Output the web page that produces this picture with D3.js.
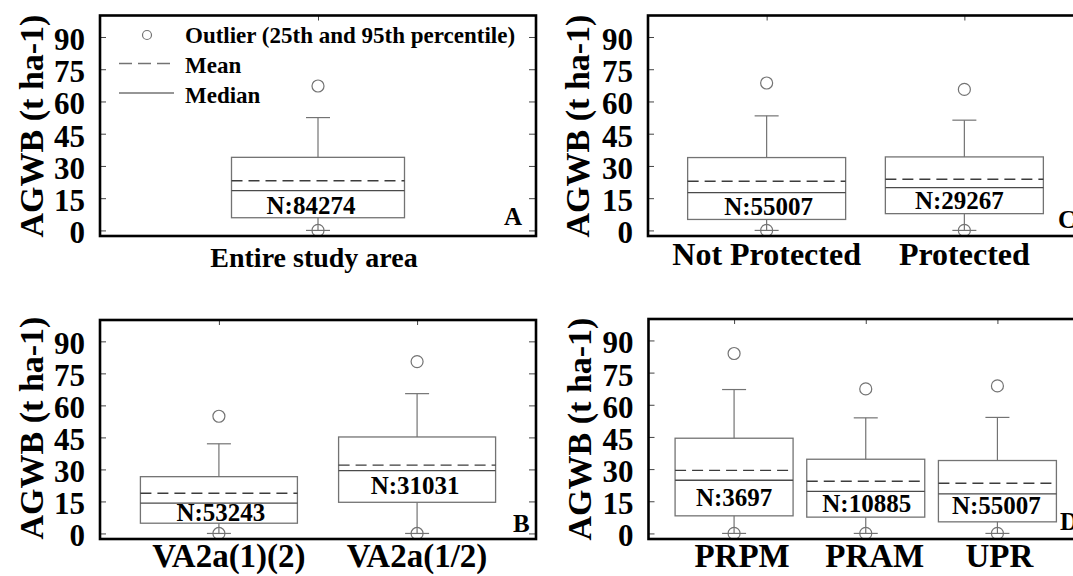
<!DOCTYPE html>
<html>
<head>
<meta charset="utf-8">
<script src="https://cdn.jsdelivr.net/npm/d3@7"></script>
<style>
  body { margin: 0; background: #fff; }
  svg { display: block; font-family: 'Liberation Serif', 'Times New Roman', serif; font-weight: bold; }
</style>
</head>
<body>
<div id="chart"></div>
<script>
const yTicks = [0, 15, 30, 45, 60, 75, 90]

// A: entire study area
const catsA = ['Entire study area']
const nA = [84274]
const loA = [0], q1A = [5.9], medA = [18.5], meanA = [23.1], q3A = [34.0], hiA = [52.5], outA = [67.2]

// C: protection status
const catsC = ['Not Protected', 'Protected']
const nC = [55007, 29267]
const loC = [0, 0], q1C = [5.1, 7.8], medC = [17.6, 19.9], meanC = [22.9, 23.8], q3C = [33.9, 34.2], hiC = [53.3, 51.3], outC = [68.6, 65.6]

// B: vegetation class
const catsB = ['VA2a(1)(2)', 'VA2a(1/2)']
const nB = [53243, 31031]
const loB = [0, 0], q1B = [4.8, 14.6], medB = [14.2, 29.4], meanB = [18.8, 32.0], q3B = [26.6, 45.2], hiB = [42.0, 65.5], outB = [54.9, 80.5]

// D: protected area type
const catsD = ['PRPM', 'PRAM', 'UPR']
const nD = [3697, 10885, 55007]
const loD = [0, 0, 0], q1D = [8.2, 7.6, 5.4], medD = [24.8, 19.6, 18.4], meanD = [29.4, 24.3, 23.4], q3D = [44.4, 34.6, 34.0], hiD = [67.1, 53.9, 54.1], outD = [83.9, 67.4, 68.8]

function rows(cats, n, lo, q1, med, mean, q3, hi, out) {
    return cats.map((c, i) => ({cat: c, i: i, n: n[i], lo: lo[i], q1: q1[i], med: med[i], mean: mean[i], q3: q3[i], hi: hi[i], out: out[i]}))
}

const panels = [
    {letter: 'A', data: rows(catsA, nA, loA, q1A, medA, meanA, q3A, hiA, outA),
     left: 100, right: 536, top: 15.5, bottom: 236, pad: 0.5, boxW: 173,
     xlabY: 267, xlabSize: 28, xlabDx: [-4], nOff: [[-7, -4]],
     titleX: 43, titleY: 126, letterX: 504, letterY: 225},
    {letter: 'C', data: rows(catsC, nC, loC, q1C, medC, meanC, q3C, hiC, outC),
     left: 648, right: 1083, top: 15.5, bottom: 236, pad: 0.6, boxW: 158,
     xlabY: 265, xlabSize: 32, xlabDx: [0, 0], nOff: [[2, -4], [-5, -5]],
     titleX: 589, titleY: 126, letterX: 1058, letterY: 228},
    {letter: 'B', data: rows(catsB, nB, loB, q1B, medB, meanB, q3B, hiB, outB),
     left: 100, right: 536, top: 320, bottom: 539, pad: 0.6, boxW: 157,
     xlabY: 567, xlabSize: 33, xlabDx: [10, 0], nOff: [[2, -2], [-2, -8]],
     titleX: 43, titleY: 428, letterX: 513, letterY: 532},
    {letter: 'D', data: rows(catsD, nD, loD, q1D, medD, meanD, q3D, hiD, outD),
     left: 648.5, right: 1083, top: 319, bottom: 539, pad: 0.65, boxW: 118,
     xlabY: 567, xlabSize: 33, xlabDx: [8, 9, 2], nOff: [[0, -10], [1, -5], [-1, -8]],
     titleX: 591, titleY: 429, letterX: 1060, letterY: 530}
]

const grey = '#737373'

const svg = d3.select('#chart').append('svg')
    .attr('width', 1073)
    .attr('height', 576)

function styleAxis(a) {
    a.select('.domain').remove()
    a.selectAll('line').attr('stroke', '#444')
    a.attr('font-family', null).attr('font-size', null)
}

function drawPanel(p) {
    const g = svg.append('g')

    const x = d3.scalePoint()
        .domain(p.data.map(d => d.cat))
        .range([p.left, p.right])
        .padding(p.pad)

    const y = d3.scaleLinear()
        .domain([-2.6, 100])
        .range([p.bottom, p.top])

    g.append('g')
        .attr('transform', `translate(${p.left},0)`)
        .call(d3.axisLeft(y).tickValues(yTicks).tickSizeInner(-6).tickSizeOuter(0).tickPadding(15))
        .call(styleAxis)
        .call(a => a.selectAll('text').attr('font-size', 31).attr('fill', '#000').attr('dy', '0.4em'))

    g.append('g')
        .attr('transform', `translate(${p.right},0)`)
        .call(d3.axisRight(y).tickValues(yTicks).tickSizeInner(-7).tickSizeOuter(0).tickFormat(''))
        .call(styleAxis)

    g.append('g')
        .attr('transform', `translate(0,${p.top})`)
        .call(d3.axisTop(x).tickSizeInner(-5).tickSizeOuter(0).tickFormat(''))
        .call(styleAxis)

    const box = g.selectAll('.box')
        .data(p.data)
        .join('g')
        .attr('class', 'box')
        .attr('transform', d => `translate(${x(d.cat)},0)`)

    const cap = 12

    box.append('line')
        .attr('y1', d => y(d.q1)).attr('y2', d => y(d.lo))
        .attr('stroke', grey).attr('stroke-width', 1.2)
    box.append('line')
        .attr('x1', -cap).attr('x2', cap)
        .attr('y1', d => y(d.lo)).attr('y2', d => y(d.lo))
        .attr('stroke', grey).attr('stroke-width', 1.2)
    box.append('line')
        .attr('y1', d => y(d.q3)).attr('y2', d => y(d.hi))
        .attr('stroke', grey).attr('stroke-width', 1.2)
    box.append('line')
        .attr('x1', -cap).attr('x2', cap)
        .attr('y1', d => y(d.hi)).attr('y2', d => y(d.hi))
        .attr('stroke', grey).attr('stroke-width', 1.2)

    box.append('rect')
        .attr('x', -p.boxW / 2)
        .attr('width', p.boxW)
        .attr('y', d => y(d.q3))
        .attr('height', d => y(d.q1) - y(d.q3))
        .attr('fill', 'none')
        .attr('stroke', grey)
        .attr('stroke-width', 1.3)

    box.append('line')
        .attr('x1', -p.boxW / 2).attr('x2', p.boxW / 2)
        .attr('y1', d => y(d.med)).attr('y2', d => y(d.med))
        .attr('stroke', '#4a4a4a').attr('stroke-width', 1.3)

    box.append('line')
        .attr('x1', -p.boxW / 2).attr('x2', p.boxW / 2)
        .attr('y1', d => y(d.mean)).attr('y2', d => y(d.mean))
        .attr('stroke', '#3c3c3c').attr('stroke-width', 1.4)
        .attr('stroke-dasharray', '11,6')

    box.selectAll('circle')
        .data(d => [d.out, d.lo])
        .join('circle')
        .attr('cy', v => y(v))
        .attr('r', 6)
        .attr('fill', 'none')
        .attr('stroke', grey)
        .attr('stroke-width', 1.2)

    box.append('text')
        .attr('x', d => p.nOff[d.i][0])
        .attr('y', d => y(d.q1) + p.nOff[d.i][1])
        .attr('text-anchor', 'middle')
        .attr('font-size', 25)
        .text(d => 'N:' + d.n)

    g.selectAll('.xlab')
        .data(p.data)
        .join('text')
        .attr('class', 'xlab')
        .attr('x', d => x(d.cat) + p.xlabDx[d.i])
        .attr('y', p.xlabY)
        .attr('text-anchor', 'middle')
        .attr('font-size', p.xlabSize)
        .text(d => d.cat)

    g.append('text')
        .attr('transform', `translate(${p.titleX},${p.titleY}) rotate(-90)`)
        .attr('text-anchor', 'middle')
        .attr('font-size', 34)
        .text('AGWB (t ha-1)')

    g.append('text')
        .attr('x', p.letterX)
        .attr('y', p.letterY)
        .attr('font-size', 25)
        .text(p.letter)

    g.append('rect')
        .attr('x', p.left)
        .attr('y', p.top)
        .attr('width', p.right - p.left)
        .attr('height', p.bottom - p.top)
        .attr('fill', 'none')
        .attr('stroke', '#000')
        .attr('stroke-width', 2.6)

    return g
}

const gA = drawPanel(panels[0])
panels.slice(1).forEach(drawPanel)

// legend in panel A
const legend = gA.append('g')
legend.append('circle')
    .attr('cx', 147).attr('cy', 35).attr('r', 4.5)
    .attr('fill', 'none').attr('stroke', grey).attr('stroke-width', 1.2)
legend.append('line')
    .attr('x1', 119).attr('x2', 174).attr('y1', 63.5).attr('y2', 63.5)
    .attr('stroke', grey).attr('stroke-width', 1.3).attr('stroke-dasharray', '13,6')
legend.append('line')
    .attr('x1', 119).attr('x2', 174).attr('y1', 93).attr('y2', 93)
    .attr('stroke', grey).attr('stroke-width', 1.3)
legend.selectAll('text')
    .data(['Outlier (25th and 95th percentile)', 'Mean', 'Median'])
    .join('text')
    .attr('x', 185)
    .attr('y', (d, i) => 43 + i * 30)
    .attr('font-size', 23)
    .text(d => d)
</script>
</body>
</html>
